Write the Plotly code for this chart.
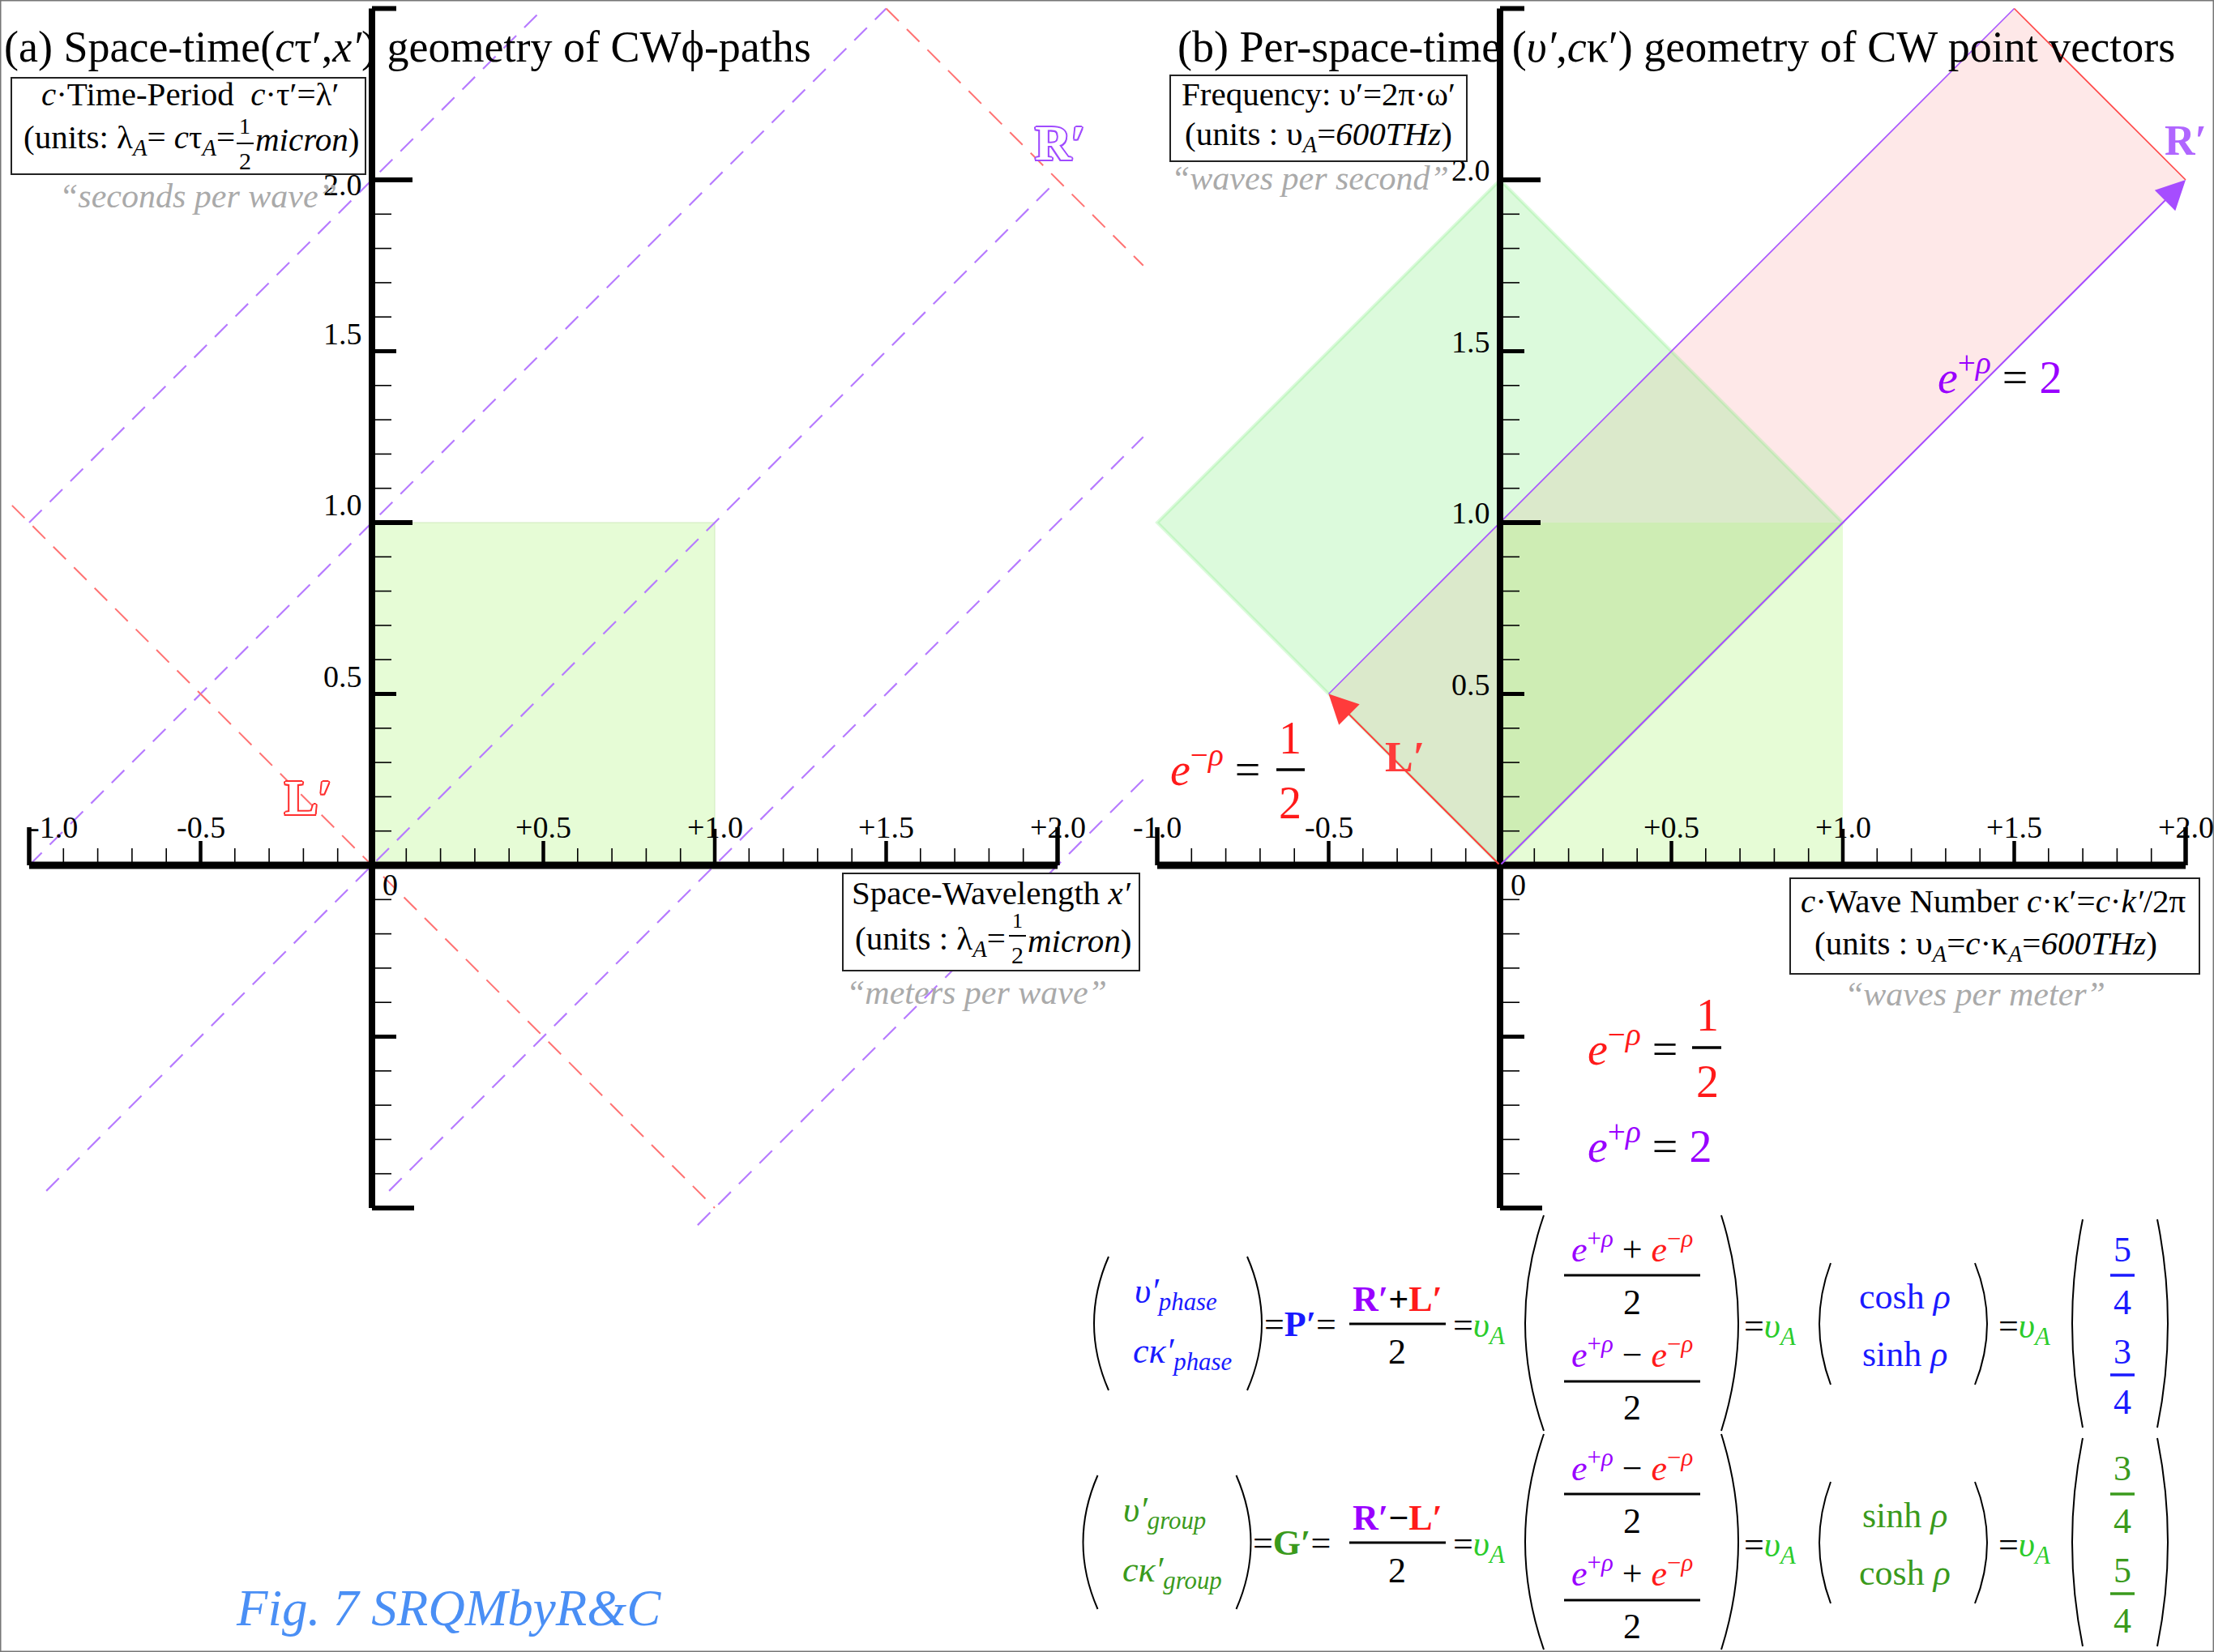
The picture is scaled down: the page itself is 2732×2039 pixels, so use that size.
import numpy as np
import plotly.graph_objects as go
from fractions import Fraction

W, H = 2732, 2039
S = 423.0                      # pixels per data unit (both panels, both axes)
OA = (459.0, 1068.0)           # panel (a) origin in page pixels
OB = (1851.0, 1068.0)          # panel (b) origin in page pixels
SPLIT = 1420.0
SERIF = "Liberation Serif, Times New Roman, serif"

# ------------------------------------------------------------------ data
E_PLUS = 2.0                   # e^{+rho}
E_MINUS = 0.5                  # e^{-rho}
R_VEC = [E_PLUS, E_PLUS]       # R' = (2, 2)
L_VEC = [-E_MINUS, E_MINUS]    # L' = (-1/2, 1/2)
SQUARE_X = [0, 1, 1, 0, 0]
SQUARE_Y = [0, 0, 1, 1, 0]
DIAMOND_X = [0, 1, 0, -1, 0]
DIAMOND_Y = [0, 1, 2, 1, 0]
# panel (a) dashed phase paths (start/end points)
R_PATHS_X = [[-1.0, 0.5], [-1.0, 1.5], [-0.95, 2.0], [0.05, 2.25], [0.95, 2.25]]
R_PATHS_Y = [[1.0, 2.5], [0.0, 2.5], [-0.95, 2.0], [-0.95, 1.25], [-1.05, 0.25]]
L_PATHS_X = [[-1.05, 1.0], [1.5, 2.25]]
L_PATHS_Y = [[1.05, -1.0], [2.5, 1.75]]
X_TICK_VALS = [-1.0, -0.5, 0.5, 1.0, 1.5, 2.0]
X_TICK_TEXT = ["-1.0", "-0.5", "+0.5", "+1.0", "+1.5", "+2.0"]
Y_TICK_VALS = [0.5, 1.0, 1.5, 2.0]
Y_TICK_TEXT = ["0.5", "1.0", "1.5", "2.0"]

COSH = Fraction((E_PLUS + E_MINUS) / 2).limit_denominator(100)   # 5/4
SINH = Fraction((E_PLUS - E_MINUS) / 2).limit_denominator(100)   # 3/4

PURPLE = "#9900ff"
RED = "#ff1a1a"
BLUE = "#1a1aff"
GGREEN = "#3a9a1c"
AGREEN = "#2bcc2b"
GRAY = "#aaaaaa"

fig = go.Figure()


def seg_trace(xs_list, ys_list, width, color, xa, ya, dash=None):
    xs, ys = [], []
    for xx, yy in zip(xs_list, ys_list):
        xs += list(xx) + [None]
        ys += list(yy) + [None]
    line = dict(color=color, width=width)
    if dash:
        line["dash"] = dash
    return go.Scatter(x=xs, y=ys, mode="lines", line=line, xaxis=xa, yaxis=ya,
                      hoverinfo="skip", showlegend=False)


def poly(xs, ys, fill, xa, ya, lc="rgba(0,0,0,0)", lw=0):
    return go.Scatter(x=xs, y=ys, mode="lines", fill="toself", fillcolor=fill,
                      line=dict(color=lc, width=lw), xaxis=xa, yaxis=ya,
                      hoverinfo="skip", showlegend=False)


def axis_traces(xa, ya):
    d = 1.0 / S
    out = []
    minor = [v for v in np.round(np.arange(-0.9, 2.0, 0.1), 2)
             if abs(v * 2 - round(v * 2)) > 1e-6]
    half = [-0.5, 0.5, 1.5]
    # x-axis ticks (upwards)
    out.append(seg_trace([[v, v] for v in minor], [[0, 21 * d]] * len(minor), 1.6, "black", xa, ya))
    out.append(seg_trace([[v, v] for v in half], [[0, 30 * d]] * len(half), 4.5, "black", xa, ya))
    out.append(seg_trace([[1.0, 1.0]], [[0, 45 * d]], 4.5, "black", xa, ya))
    out.append(seg_trace([[-1.0, -1.0], [2.0, 2.0]], [[0, 47 * d], [0, 47 * d]], 5.5, "black", xa, ya))
    # y-axis ticks (to the right)
    out.append(seg_trace([[0, 24 * d]] * len(minor), [[v, v] for v in minor], 1.6, "black", xa, ya))
    out.append(seg_trace([[0, 30 * d]] * len(half), [[v, v] for v in half], 5, "black", xa, ya))
    out.append(seg_trace([[0, 50 * d]] * 2, [[1.0, 1.0], [2.0, 2.0]], 6, "black", xa, ya))
    out.append(seg_trace([[0, 30 * d], [0, 52 * d]], [[2.5, 2.5], [-1.0, -1.0]], 6, "black", xa, ya))
    # main axis lines
    out.append(seg_trace([[-1.0, 2.0]], [[0, 0]], 9, "black", xa, ya))
    out.append(seg_trace([[0, 0]], [[-1.0, 2.5]], 8, "black", xa, ya))
    return out


# ------------------------------------------------------------ panel (a)
fig.add_trace(poly(SQUARE_X, SQUARE_Y, "rgba(183,245,137,0.35)", "x", "y",
                   "rgba(200,230,180,0.8)", 1))
fig.add_trace(seg_trace(R_PATHS_X, R_PATHS_Y, 2.2, "#b77cff", "x", "y", dash="22px,14px"))
fig.add_trace(seg_trace(L_PATHS_X, L_PATHS_Y, 2.0, "#ff7373", "x", "y", dash="22px,14px"))
for t in axis_traces("x", "y"):
    fig.add_trace(t)

# ------------------------------------------------------------ panel (b)
RL = [R_VEC[0] + L_VEC[0], R_VEC[1] + L_VEC[1]]
PINK_X = [0, R_VEC[0], RL[0], L_VEC[0], 0]
PINK_Y = [0, R_VEC[1], RL[1], L_VEC[1], 0]
fig.add_trace(poly(PINK_X, PINK_Y, "rgba(250,140,140,0.2)", "x2", "y2"))
fig.add_trace(poly(DIAMOND_X, DIAMOND_Y, "rgba(115,235,115,0.25)", "x2", "y2",
                   "rgba(115,235,115,0.25)", 4))
fig.add_trace(poly(SQUARE_X, SQUARE_Y, "rgba(183,245,137,0.35)", "x2", "y2"))
fig.add_trace(seg_trace([[L_VEC[0], RL[0]]], [[L_VEC[1], RL[1]]], 1.6, "#a855ff", "x2", "y2"))
fig.add_trace(seg_trace([[RL[0], R_VEC[0]]], [[RL[1], R_VEC[1]]], 1.6, "#ff4444", "x2", "y2"))
for t in axis_traces("x2", "y2"):
    fig.add_trace(t)

# ------------------------------------------------------------ annotations
ann = []
shapes = []


def pa(text, x, y, size, color="black", xanchor="center", yanchor="middle", **kw):
    font = dict(family=SERIF, size=size, color=color)
    if "shadow" in kw:
        font["shadow"] = kw.pop("shadow")
    d = dict(text=text, x=x / W, y=1 - y / H, xref="paper", yref="paper",
             showarrow=False, xanchor=xanchor, yanchor=yanchor, font=font)
    d.update(kw)
    ann.append(d)


def bar(x0, x1, y, w=3, color="black"):
    shapes.append(dict(type="line", xref="paper", yref="paper", x0=x0 / W, x1=x1 / W,
                       y0=1 - y / H, y1=1 - y / H, line=dict(color=color, width=w), layer="above"))


def box(x0, y0, x1, y1):
    shapes.append(dict(type="rect", xref="paper", yref="paper", x0=x0 / W, x1=x1 / W,
                       y0=1 - y1 / H, y1=1 - y0 / H, line=dict(color="#222", width=2),
                       fillcolor="white", layer="above"))


def paren(xl, xr, y0, y1, left=True, w=2):
    ym = (y0 + y1) / 2
    if left:
        xe, cx = xr, 2 * xl - xr
    else:
        xe, cx = xl, 2 * xr - xl
    path = f"M {xe / W},{1 - y0 / H} Q {cx / W},{1 - ym / H} {xe / W},{1 - y1 / H}"
    shapes.append(dict(type="path", xref="paper", yref="paper", path=path,
                       line=dict(color="black", width=w), layer="above"))


# tick labels
for xa, ya, sh_a in (("x", "y", True), ("x2", "y2", False)):
    for v, t in zip(X_TICK_VALS, X_TICK_TEXT):
        xs = 30 if (sh_a and v == -1.0) else 0
        ann.append(dict(text=t, x=v, y=0, xref=xa, yref=ya, showarrow=False,
                        xshift=xs, yshift=47, xanchor="center", yanchor="middle",
                        font=dict(family=SERIF, size=38, color="black")))
    for v, t in zip(Y_TICK_VALS, Y_TICK_TEXT):
        if sh_a:
            ys = -6 if v == 2.0 else 22
        else:
            ys = 12
        ann.append(dict(text=t, x=0, y=v, xref=xa, yref=ya, showarrow=False,
                        xshift=-10, yshift=ys, xanchor="right", yanchor="middle",
                        font=dict(family=SERIF, size=38, color="black")))
    ann.append(dict(text="0", x=0, y=0, xref=xa, yref=ya, showarrow=False,
                    xshift=22, yshift=-24, xanchor="center", yanchor="middle",
                    font=dict(family=SERIF, size=38, color="black")))

# arrows L' and R'
for vec, col in ((L_VEC, "#ff3b3b"), (R_VEC, "#a64dff")):
    ann.append(dict(text="", x=vec[0], y=vec[1], ax=0, ay=0, xref="x2", yref="y2",
                    axref="x2", ayref="y2", showarrow=True, arrowhead=2, arrowsize=3.6,
                    arrowwidth=2, arrowcolor=col, standoff=0, startstandoff=0))

# titles
pa("(a) Space-time(<i>c</i>τ′,<i>x′</i>) geometry of CWϕ-paths", 3, 58, 54, xanchor="left")
pa("(b) Per-space-time (<i>υ′</i>,<i>c</i>κ′) geometry of CW point vectors", 1451, 58, 54,
   xanchor="left")

# boxes
box(14, 96, 451, 215)
pa("<i>c</i>·Time-Period\u00a0\u00a0<i>c</i>·τ′=λ′", 234, 116, 41)
pa("(units: λ<sub><i>A</i></sub>= <i>c</i>τ<sub><i>A</i></sub>=", 292, 172, 41, xanchor="right")
pa("1", 302, 156, 28)
bar(292, 313, 177, 2)
pa("2", 302, 198, 30)
pa("<i>micron</i>)", 313, 172, 41, xanchor="left")
pa("<i>“seconds per wave”</i>", 244, 242, 42, GRAY)

box(1444, 93, 1810, 199)
pa("Frequency: υ′=2π·ω′", 1627, 116, 41)
pa("(units : υ<sub><i>A</i></sub>=<i>600THz</i>)", 1627, 168, 41)
pa("<i>“waves per second”</i>", 1616, 220, 42, GRAY)

box(1040, 1078, 1406, 1198)
pa("Space-Wavelength <i>x′</i>", 1223, 1102, 41)
pa("(units : λ<sub><i>A</i></sub>=", 1243, 1161, 41, xanchor="right")
pa("1", 1255, 1136, 26)
bar(1245, 1266, 1155, 2)
pa("2", 1255, 1178, 30)
pa("<i>micron</i>)", 1266, 1161, 41, xanchor="left")
pa("<i>“meters per wave”</i>", 1205, 1225, 42, GRAY)

box(2209, 1084, 2714, 1202)
pa("<i>c</i>·Wave Number <i>c</i>·κ′=<i>c</i>·<i>k′</i>/2π", 2460, 1112, 41)
pa("(units : υ<sub><i>A</i></sub>=<i>c</i>·κ<sub><i>A</i></sub>=<i>600THz</i>)", 2450, 1167, 41)
pa("<i>“waves per meter”</i>", 2437, 1227, 42, GRAY)

# outlined R' and L' in panel (a)
def outline(c):
    o = []
    for dx, dy in ((2, 0), (-2, 0), (0, 2), (0, -2), (1.5, 1.5), (-1.5, -1.5), (1.5, -1.5), (-1.5, 1.5)):
        o.append(f"{dx}px {dy}px 0 {c}")
    return ", ".join(o)

pa("<b>R′</b>", 1308, 176, 62, "white", shadow=outline("#a04bff"))
pa("<b>L′</b>", 380, 984, 62, "white", shadow=outline("#ff3030"))

# panel (b) labels
pa("<b>L′</b>", 1733, 934, 52, "#ff3b3b")
pa("<b>R′</b>", 2697, 174, 52, "#b066ff")

EP = f'<span style="color:{PURPLE}"><i>e</i><sup>+<i>ρ</i></sup></span>'
EM = f'<span style="color:{RED}"><i>e</i><sup>−<i>ρ</i></sup></span>'

pa(f'{EP} = <span style="color:{PURPLE}">{int(E_PLUS)}</span>', 2389, 462, 56, xanchor="left")

em_frac = Fraction(E_MINUS).limit_denominator(100)
pa(f"{EM} =", 1442, 945, 56, xanchor="left")
pa(str(em_frac.numerator), 1592, 911, 56, RED)
bar(1575, 1610, 950, 3.5)
pa(str(em_frac.denominator), 1592, 991, 56, RED)

pa(f"{EM} =", 1957, 1290, 56, xanchor="left")
pa(str(em_frac.numerator), 2107, 1253, 56, RED)
bar(2088, 2124, 1293, 3.5)
pa(str(em_frac.denominator), 2107, 1335, 56, RED)
pa(f'{EP} = <span style="color:{PURPLE}">{int(E_PLUS)}</span>', 1957, 1410, 56, xanchor="left")

# caption
pa("<i>Fig. 7 SRQMbyR&amp;C</i>", 553, 1985, 63, "#4a8ff5")

# ------------------------------------------------------------ formula block
FS = 44
UA = f'=<span style="color:{AGREEN}"><i>υ</i><sub><i>A</i></sub></span>'
RP = f'<span style="color:{PURPLE}">R′</span>'
LP = f'<span style="color:{RED}">L′</span>'

def row(dy, kind):
    col = BLUE if kind == "phase" else GGREEN
    sign = "+" if kind == "phase" else "−"
    first = (COSH, SINH) if kind == "phase" else (SINH, COSH)
    names = ("cosh <i>ρ</i>", "sinh <i>ρ</i>") if kind == "phase" else ("sinh <i>ρ</i>", "cosh <i>ρ</i>")
    inner = (f"{EP} + {EM}", f"{EP} − {EM}") if kind == "phase" else (f"{EP} − {EM}", f"{EP} + {EM}")
    vec = "P′" if kind == "phase" else "G′"
    # left column vector
    paren(1350 - dy * 0.05, 1368 - dy * 0.05, 1551 + dy, 1716 + dy, True)
    paren(1539 - dy * 0.05, 1557 - dy * 0.05, 1551 + dy, 1716 + dy, False)
    pa(f"<i>υ′<sub>{kind}</sub></i>", 1398 - dy * 0.05, 1596 + dy, FS, col, xanchor="left")
    pa(f"<i>cκ′<sub>{kind}</sub></i>", 1396 - dy * 0.05, 1670 + dy, FS, col, xanchor="left")
    pa(f'=<b><span style="color:{col}">{vec}</span></b>=', 1558 - dy * 0.05, 1634 + dy, FS,
       xanchor="left")
    # (R' +/- L') / 2
    pa(f"<b>{RP}{sign}{LP}</b>", 1724, 1603 + dy, FS)
    bar(1665, 1784, 1634 + dy, 3)
    pa("2", 1724, 1668 + dy, FS)
    pa(UA, 1791, 1638 + dy, FS, xanchor="left")
    # exponential column
    paren(1882, 1905, 1500 + dy, 1766 + dy, True)
    paren(2124, 2145, 1500 + dy, 1766 + dy, False)
    pa(inner[0], 2014, 1539 + dy, FS)
    bar(1930, 2098, 1574 + dy, 3)
    pa("2", 2014, 1607 + dy, FS)
    pa(inner[1], 2014, 1669 + dy, FS)
    bar(1930, 2098, 1705 + dy, 3)
    pa("2", 2014, 1737 + dy, FS)
    pa(UA, 2150, 1639 + dy, FS, xanchor="left")
    # cosh / sinh column
    paren(2245, 2259, 1559 + dy, 1709 + dy, True)
    paren(2437, 2452, 1559 + dy, 1709 + dy, False)
    pa(names[0], 2350, 1600 + dy, FS, col)
    pa(names[1], 2350, 1671 + dy, FS, col)
    pa(UA, 2464, 1639 + dy, FS, xanchor="left")
    # numeric column
    paren(2557, 2570, 1505 + dy, 1762 + dy, True)
    paren(2662, 2675, 1505 + dy, 1762 + dy, False)
    pa(str(first[0].numerator), 2619, 1542 + dy, FS, col)
    bar(2604, 2634, 1574 + dy, 3.5, col)
    pa(str(first[0].denominator), 2619, 1607 + dy, FS, col)
    pa(str(first[1].numerator), 2619, 1668 + dy, FS, col)
    bar(2604, 2634, 1697 + dy, 3.5, col)
    pa(str(first[1].denominator), 2619, 1730 + dy, FS, col)

row(0, "phase")
row(270, "group")

# page frame
shapes.append(dict(type="rect", xref="paper", yref="paper", x0=0, x1=1, y0=0, y1=1,
                   line=dict(color="#777", width=3), layer="above"))

ya_range = [(OA[1] - H) / S, OA[1] / S]
fig.update_layout(
    width=W, height=H, margin=dict(l=0, r=0, t=0, b=0),
    paper_bgcolor="white", plot_bgcolor="white", showlegend=False,
    xaxis=dict(domain=[0, SPLIT / W], range=[-OA[0] / S, (SPLIT - OA[0]) / S],
               visible=False, fixedrange=True),
    yaxis=dict(domain=[0, 1], range=ya_range, visible=False, fixedrange=True, anchor="x"),
    xaxis2=dict(domain=[SPLIT / W, 1], range=[(SPLIT - OB[0]) / S, (W - OB[0]) / S],
                visible=False, fixedrange=True, anchor="y2"),
    yaxis2=dict(domain=[0, 1], range=ya_range, visible=False, fixedrange=True, anchor="x2"),
    annotations=ann, shapes=shapes,
)

fig.write_html(
    "out.html",
    config={"displayModeBar": False},
    post_script="document.body.style.margin='0px';document.body.style.overflow='hidden';",
)
